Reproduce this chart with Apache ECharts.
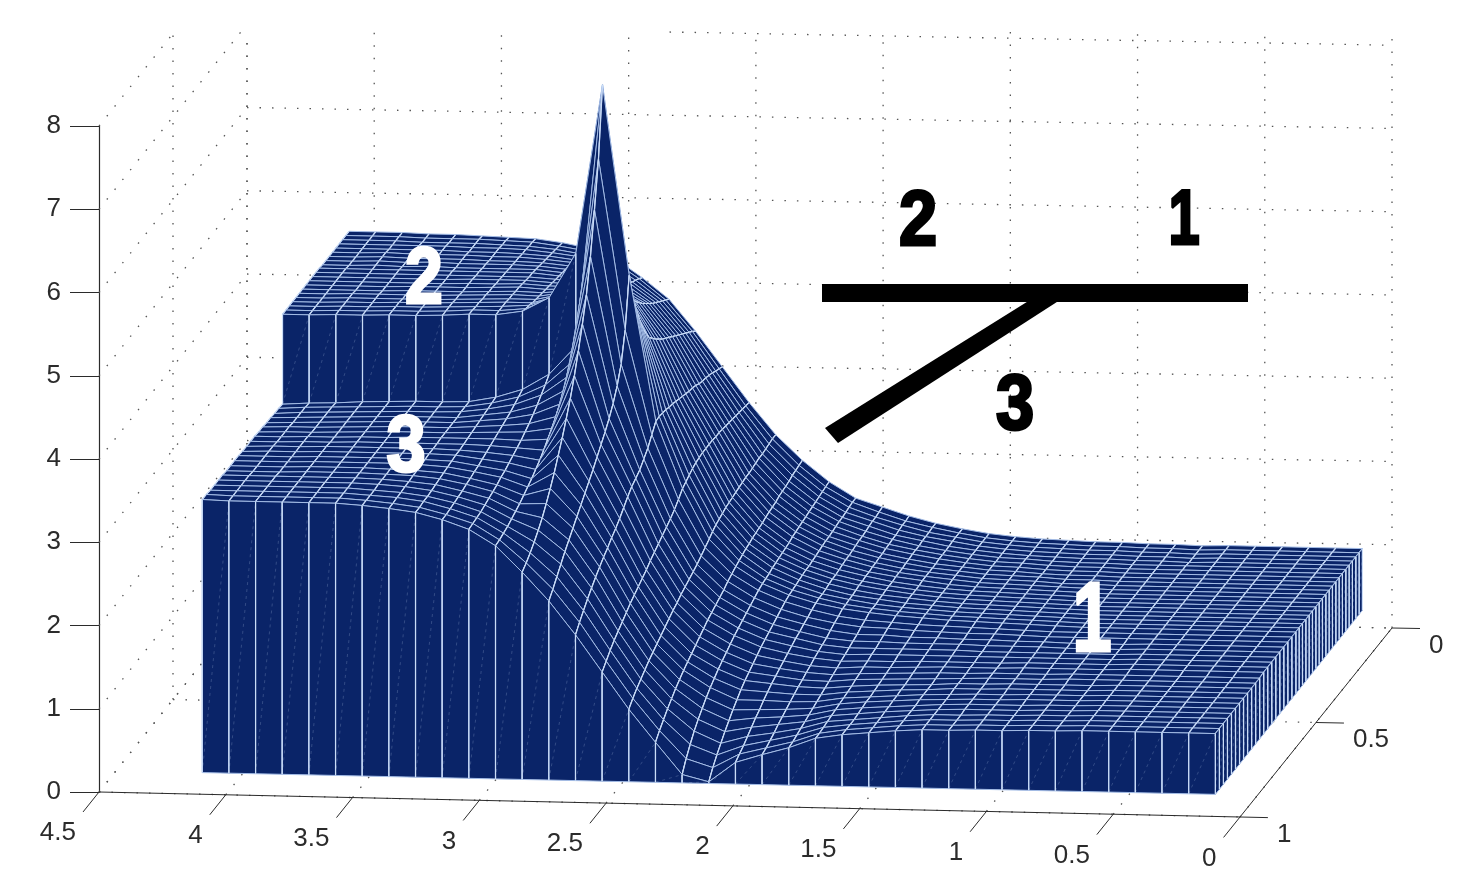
<!DOCTYPE html>
<html>
<head>
<meta charset="utf-8">
<script src="https://cdn.jsdelivr.net/npm/echarts@6/dist/echarts.min.js"></script>
<style>
html, body { margin: 0; padding: 0; background: #fff; }
#main { width: 1474px; height: 894px; }
</style>
</head>
<body>
<div id="main"></div>
<script>
var xTicks = [4.5, 4, 3.5, 3, 2.5, 2, 1.5, 1, 0.5, 0];
var yTicks = [0, 0.5, 1];
var zTicks = [0, 1, 2, 3, 4, 5, 6, 7, 8];

// surface height, one line per column from x=4 to x=0, front half: y=1 to the slip line
var heightsFront = [
    [3.28,3.28,3.27,3.27,3.27,3.27,3.26,3.26,3.26,3.26,3.25,3.25,3.25,3.25,3.24,3.24,3.23,3.23,3.22,3.22,3.21],
    [3.27,3.27,3.27,3.27,3.27,3.27,3.26,3.26,3.26,3.26,3.26,3.26,3.25,3.25,3.25,3.25,3.24,3.24,3.24,3.24,3.23],
    [3.27,3.27,3.27,3.27,3.27,3.27,3.26,3.26,3.26,3.26,3.26,3.26,3.26,3.26,3.25,3.25,3.25,3.25,3.25,3.25,3.24],
    [3.27,3.27,3.27,3.27,3.27,3.27,3.27,3.27,3.27,3.27,3.27,3.27,3.26,3.26,3.26,3.26,3.26,3.26,3.26,3.26,3.26],
    [3.27,3.27,3.27,3.27,3.27,3.27,3.27,3.27,3.27,3.27,3.27,3.27,3.27,3.27,3.27,3.27,3.27,3.27,3.27,3.27,3.27],
    [3.27,3.27,3.27,3.27,3.27,3.27,3.27,3.27,3.27,3.27,3.27,3.27,3.27,3.27,3.28,3.28,3.28,3.28,3.28,3.28,3.28],
    [3.25,3.25,3.25,3.25,3.26,3.26,3.26,3.26,3.27,3.27,3.27,3.27,3.27,3.28,3.28,3.28,3.28,3.28,3.28,3.28,3.28],
    [3.22,3.22,3.23,3.23,3.24,3.24,3.25,3.25,3.26,3.26,3.27,3.27,3.27,3.28,3.28,3.28,3.28,3.28,3.29,3.29,3.29],
    [3.18,3.18,3.19,3.19,3.20,3.21,3.22,3.23,3.24,3.25,3.26,3.26,3.27,3.28,3.29,3.30,3.31,3.32,3.33,3.34,3.35],
    [3.10,3.10,3.11,3.12,3.13,3.14,3.16,3.17,3.19,3.20,3.22,3.24,3.26,3.28,3.30,3.32,3.34,3.36,3.39,3.42,3.45],
    [2.99,3.00,3.01,3.02,3.04,3.06,3.08,3.10,3.13,3.15,3.18,3.21,3.24,3.27,3.31,3.35,3.40,3.45,3.51,3.57,3.64],
    [2.80,2.81,2.83,2.85,2.88,2.91,2.94,2.98,3.02,3.06,3.11,3.16,3.22,3.29,3.36,3.44,3.53,3.63,3.74,3.85,3.98],
    [2.49,2.54,2.60,2.67,2.75,2.84,2.95,3.07,3.20,3.35,3.50,3.67,3.85,4.06,4.30,4.56,4.85,5.25,5.75,6.30,7.13],
    [2.15,2.23,2.32,2.41,2.50,2.58,2.66,2.74,2.82,2.90,2.98,3.06,3.15,3.24,3.33,3.43,3.55,3.70,3.90,4.25,4.85],
    [1.75,1.84,1.92,2.00,2.07,2.14,2.20,2.26,2.31,2.37,2.42,2.48,2.55,2.62,2.68,2.72,2.76,2.83,2.90,3.00,3.10],
    [1.31,1.38,1.45,1.51,1.56,1.61,1.66,1.71,1.75,1.79,1.83,1.87,1.92,1.96,2.00,2.04,2.08,2.12,2.17,2.23,2.30],
    [0.87,0.94,1.00,1.05,1.10,1.15,1.19,1.23,1.27,1.31,1.35,1.39,1.42,1.46,1.49,1.52,1.55,1.58,1.62,1.66,1.70],
    [0.48,0.56,0.63,0.70,0.76,0.82,0.87,0.92,0.96,1.00,1.04,1.08,1.12,1.16,1.19,1.22,1.25,1.28,1.32,1.35,1.38],
    [0.10,0.23,0.34,0.44,0.52,0.59,0.66,0.72,0.77,0.82,0.86,0.90,0.94,0.98,1.01,1.04,1.07,1.10,1.13,1.16,1.18],
    [0.02,0.13,0.22,0.30,0.38,0.45,0.52,0.58,0.64,0.69,0.73,0.77,0.81,0.85,0.88,0.91,0.94,0.97,1.00,1.03,1.05],
    [0.26,0.30,0.34,0.39,0.44,0.49,0.53,0.58,0.62,0.66,0.69,0.72,0.75,0.78,0.81,0.84,0.86,0.89,0.91,0.94,0.96],
    [0.36,0.38,0.41,0.44,0.48,0.51,0.54,0.57,0.60,0.63,0.65,0.68,0.70,0.73,0.75,0.77,0.79,0.82,0.85,0.87,0.90],
    [0.45,0.46,0.48,0.50,0.52,0.54,0.56,0.58,0.60,0.62,0.64,0.66,0.68,0.70,0.72,0.74,0.76,0.78,0.81,0.83,0.86],
    [0.57,0.57,0.58,0.59,0.60,0.61,0.62,0.63,0.64,0.65,0.67,0.68,0.70,0.71,0.73,0.74,0.76,0.78,0.80,0.81,0.83],
    [0.62,0.62,0.62,0.62,0.63,0.64,0.65,0.65,0.66,0.67,0.68,0.69,0.70,0.71,0.73,0.74,0.75,0.76,0.78,0.79,0.81],
    [0.65,0.65,0.65,0.65,0.66,0.66,0.67,0.67,0.68,0.68,0.69,0.70,0.71,0.72,0.73,0.74,0.75,0.76,0.77,0.78,0.79],
    [0.68,0.68,0.68,0.68,0.68,0.68,0.69,0.69,0.69,0.69,0.70,0.71,0.72,0.72,0.73,0.74,0.75,0.75,0.76,0.77,0.78],
    [0.70,0.70,0.70,0.70,0.70,0.70,0.70,0.70,0.71,0.71,0.71,0.71,0.72,0.72,0.73,0.73,0.74,0.75,0.76,0.76,0.77],
    [0.70,0.70,0.70,0.70,0.71,0.71,0.71,0.71,0.71,0.71,0.72,0.72,0.72,0.72,0.73,0.73,0.74,0.74,0.75,0.75,0.76],
    [0.71,0.71,0.71,0.71,0.71,0.71,0.71,0.71,0.72,0.72,0.72,0.72,0.73,0.73,0.73,0.73,0.74,0.74,0.74,0.74,0.75],
    [0.71,0.71,0.71,0.71,0.71,0.71,0.72,0.72,0.72,0.72,0.72,0.72,0.73,0.73,0.73,0.73,0.73,0.73,0.74,0.74,0.74],
    [0.72,0.72,0.72,0.72,0.72,0.72,0.72,0.72,0.72,0.72,0.73,0.73,0.73,0.73,0.73,0.73,0.73,0.73,0.74,0.74,0.74],
    [0.72,0.72,0.72,0.72,0.72,0.72,0.72,0.72,0.72,0.72,0.73,0.73,0.73,0.73,0.73,0.73,0.73,0.73,0.74,0.74,0.74],
    [0.73,0.73,0.73,0.73,0.73,0.73,0.73,0.73,0.73,0.73,0.73,0.73,0.74,0.74,0.74,0.74,0.74,0.74,0.74,0.74,0.74],
    [0.73,0.73,0.73,0.73,0.73,0.73,0.73,0.73,0.73,0.73,0.73,0.73,0.74,0.74,0.74,0.74,0.74,0.74,0.74,0.74,0.74],
    [0.73,0.73,0.73,0.73,0.73,0.73,0.73,0.73,0.73,0.73,0.73,0.73,0.74,0.74,0.74,0.74,0.74,0.74,0.74,0.74,0.74],
    [0.73,0.73,0.73,0.73,0.73,0.73,0.73,0.73,0.73,0.73,0.73,0.73,0.74,0.74,0.74,0.74,0.74,0.74,0.74,0.74,0.74],
    [0.73,0.73,0.73,0.73,0.73,0.73,0.73,0.73,0.73,0.73,0.73,0.73,0.74,0.74,0.74,0.74,0.74,0.74,0.74,0.74,0.74],
    [0.73,0.73,0.73,0.73,0.73,0.73,0.73,0.73,0.73,0.73,0.73,0.73,0.74,0.74,0.74,0.74,0.74,0.74,0.74,0.74,0.74]
];

// back half: slip line to y=0
var heightsBack = [
    [4.29,4.29,4.29,4.29,4.29,4.29,4.29,4.29,4.29,4.29,4.29,4.29,4.28,4.28,4.28,4.28,4.28,4.28,4.28,4.28,4.28],
    [4.29,4.29,4.29,4.29,4.29,4.29,4.29,4.29,4.29,4.29,4.29,4.29,4.28,4.28,4.28,4.28,4.28,4.28,4.28,4.28,4.28],
    [4.30,4.30,4.30,4.30,4.30,4.30,4.29,4.29,4.29,4.29,4.29,4.29,4.29,4.29,4.29,4.29,4.28,4.28,4.28,4.28,4.28],
    [4.30,4.30,4.30,4.30,4.30,4.30,4.29,4.29,4.29,4.29,4.29,4.29,4.28,4.28,4.28,4.28,4.28,4.28,4.27,4.27,4.27],
    [4.31,4.31,4.31,4.31,4.30,4.30,4.30,4.30,4.29,4.29,4.29,4.29,4.29,4.29,4.28,4.28,4.28,4.28,4.27,4.27,4.27],
    [4.31,4.31,4.31,4.31,4.30,4.30,4.30,4.30,4.29,4.29,4.29,4.29,4.28,4.28,4.28,4.28,4.27,4.27,4.27,4.27,4.26],
    [4.32,4.32,4.32,4.32,4.31,4.31,4.30,4.30,4.30,4.30,4.29,4.29,4.28,4.28,4.27,4.27,4.27,4.27,4.26,4.26,4.25],
    [4.34,4.34,4.33,4.33,4.32,4.32,4.31,4.31,4.30,4.30,4.29,4.29,4.28,4.28,4.27,4.27,4.26,4.26,4.25,4.25,4.24],
    [4.34,4.34,4.34,4.34,4.33,4.33,4.32,4.32,4.31,4.30,4.29,4.29,4.28,4.27,4.26,4.25,4.24,4.23,4.22,4.21,4.20],
    [4.39,4.37,4.36,4.34,4.33,4.32,4.31,4.30,4.29,4.28,4.27,4.26,4.25,4.24,4.23,4.22,4.20,4.19,4.17,4.16,4.14],
    [4.56,4.51,4.47,4.43,4.40,4.37,4.34,4.31,4.29,4.26,4.24,4.22,4.20,4.18,4.16,4.14,4.12,4.10,4.07,4.05,4.02],
    [5.10,4.85,4.70,4.58,4.48,4.40,4.33,4.27,4.22,4.18,4.14,4.10,4.07,4.03,4.00,3.97,3.94,3.90,3.87,3.84,3.80],
    [7.13,6.05,5.35,5.00,4.75,4.55,4.40,4.28,4.18,4.10,4.02,3.96,3.90,3.85,3.80,3.75,3.71,3.67,3.63,3.59,3.55],
    [4.85,4.55,4.35,4.17,4.02,3.90,3.80,3.74,3.68,3.63,3.58,3.54,3.50,3.46,3.42,3.38,3.34,3.30,3.26,3.22,3.17],
    [3.10,3.11,3.10,3.09,3.07,3.06,3.04,3.02,3.00,2.98,2.96,2.95,2.93,2.90,2.88,2.87,2.85,2.83,2.80,2.78,2.75],
    [2.30,2.33,2.36,2.39,2.41,2.42,2.43,2.43,2.43,2.43,2.42,2.42,2.41,2.40,2.39,2.38,2.37,2.36,2.35,2.34,2.33],
    [1.70,1.74,1.77,1.79,1.81,1.83,1.84,1.85,1.86,1.87,1.88,1.89,1.89,1.90,1.91,1.92,1.92,1.93,1.94,1.95,1.95],
    [1.38,1.40,1.42,1.44,1.45,1.47,1.48,1.49,1.50,1.52,1.53,1.54,1.55,1.57,1.58,1.59,1.60,1.62,1.63,1.64,1.65],
    [1.18,1.19,1.20,1.22,1.23,1.24,1.25,1.26,1.27,1.29,1.30,1.31,1.32,1.33,1.34,1.35,1.36,1.37,1.38,1.39,1.40],
    [1.05,1.06,1.07,1.08,1.09,1.10,1.10,1.11,1.12,1.13,1.14,1.15,1.15,1.16,1.17,1.18,1.18,1.19,1.20,1.21,1.21],
    [0.96,0.97,0.97,0.98,0.99,1.00,1.00,1.01,1.02,1.03,1.03,1.04,1.05,1.06,1.06,1.07,1.08,1.09,1.09,1.10,1.11],
    [0.90,0.90,0.91,0.91,0.92,0.93,0.93,0.94,0.94,0.95,0.95,0.96,0.96,0.97,0.97,0.98,0.98,0.99,1.00,1.00,1.01],
    [0.86,0.86,0.86,0.87,0.87,0.88,0.88,0.88,0.89,0.89,0.89,0.90,0.90,0.91,0.91,0.91,0.92,0.92,0.92,0.93,0.93],
    [0.83,0.83,0.83,0.83,0.84,0.84,0.84,0.84,0.85,0.85,0.85,0.85,0.85,0.86,0.86,0.86,0.86,0.87,0.87,0.87,0.87],
    [0.81,0.81,0.81,0.81,0.81,0.81,0.81,0.81,0.81,0.82,0.82,0.82,0.82,0.82,0.82,0.82,0.82,0.82,0.82,0.82,0.82],
    [0.79,0.79,0.79,0.79,0.79,0.79,0.79,0.79,0.79,0.79,0.79,0.79,0.79,0.79,0.79,0.79,0.79,0.79,0.79,0.79,0.79],
    [0.78,0.78,0.78,0.78,0.78,0.78,0.78,0.78,0.78,0.78,0.78,0.78,0.78,0.78,0.78,0.78,0.77,0.77,0.77,0.77,0.77],
    [0.77,0.77,0.77,0.77,0.77,0.77,0.77,0.77,0.77,0.77,0.77,0.77,0.76,0.76,0.76,0.76,0.76,0.76,0.76,0.76,0.76],
    [0.76,0.76,0.76,0.76,0.76,0.76,0.76,0.76,0.76,0.76,0.75,0.75,0.75,0.75,0.75,0.75,0.75,0.75,0.75,0.75,0.75],
    [0.75,0.75,0.75,0.75,0.75,0.75,0.75,0.75,0.75,0.75,0.75,0.75,0.75,0.75,0.75,0.75,0.75,0.75,0.75,0.75,0.75],
    [0.74,0.74,0.74,0.74,0.74,0.74,0.74,0.74,0.74,0.74,0.74,0.74,0.74,0.74,0.74,0.74,0.74,0.74,0.74,0.74,0.74],
    [0.74,0.74,0.74,0.74,0.74,0.74,0.74,0.74,0.74,0.74,0.74,0.74,0.74,0.74,0.74,0.74,0.74,0.74,0.74,0.74,0.74],
    [0.74,0.74,0.74,0.74,0.74,0.74,0.74,0.74,0.74,0.74,0.74,0.74,0.74,0.74,0.74,0.74,0.73,0.73,0.73,0.73,0.73],
    [0.74,0.74,0.74,0.74,0.74,0.74,0.74,0.74,0.74,0.74,0.74,0.74,0.74,0.74,0.74,0.74,0.74,0.74,0.74,0.74,0.74],
    [0.74,0.74,0.74,0.74,0.74,0.74,0.74,0.74,0.74,0.74,0.74,0.74,0.74,0.74,0.74,0.74,0.74,0.74,0.74,0.74,0.74],
    [0.74,0.74,0.74,0.74,0.74,0.74,0.74,0.74,0.74,0.74,0.74,0.74,0.74,0.74,0.74,0.74,0.74,0.74,0.74,0.74,0.74],
    [0.74,0.74,0.74,0.74,0.74,0.74,0.74,0.74,0.74,0.74,0.74,0.74,0.74,0.74,0.74,0.74,0.74,0.74,0.74,0.74,0.74],
    [0.74,0.74,0.74,0.74,0.74,0.74,0.74,0.74,0.74,0.74,0.74,0.74,0.74,0.74,0.74,0.74,0.74,0.74,0.74,0.74,0.74],
    [0.74,0.74,0.74,0.74,0.74,0.74,0.74,0.74,0.74,0.74,0.74,0.74,0.74,0.74,0.74,0.74,0.74,0.74,0.74,0.74,0.74]
];

var NAVY = '#0a2468';
var ROW_LINE = '#a3bce6';
var COL_LINE = '#cadcf7';
var INK = '#2b2b2b';
var FONT = '"Liberation Sans", Arial, sans-serif';
var HEAVY = '"Liberation Sans Narrow", "Liberation Sans", sans-serif';

// oblique view: floor (x,y) and height z to the plane of the hidden x axis and the z axis
function project(x, y, z) {
    var tx = (4.5 - x) / 4.5;
    var ty = 1 - y;
    var px = tx * 1141 + ty * (148 + 4 * tx);
    var py = tx * 25 - ty * (185 + 4 * tx);
    return [4.5 - px / 1141 * 4.5, z - py / 83.25];
}

// the block does not sit on the axis box, its floor is offset from it
function surfacePoint(i, w, h) {
    var t = i / 38;
    var x = (1 - w) * (4.16 + (0.166 - 4.16) * t) + w * (4.165 + (0.17 - 4.165) * t);
    var y = (1 - w) * 0.885 + w * (-0.113 + 0.023 * t);
    return project(x, y, h);
}

var frontW = function (n) { return n / 20 * 0.547; };
var backW = function (m) { return 0.547 + m / 20 * 0.453; };

var faces = [];
function quad(a, b, c, d, wall) {
    faces.push({ pts: [a, b, c, d], wall: wall });
}
var i, j;
// far to near
for (j = 19; j >= 0; j--) {
    for (i = 0; i < 38; i++) {
        quad(surfacePoint(i, backW(j + 1), heightsBack[i][j + 1]), surfacePoint(i + 1, backW(j + 1), heightsBack[i + 1][j + 1]),
             surfacePoint(i + 1, backW(j), heightsBack[i + 1][j]), surfacePoint(i, backW(j), heightsBack[i][j]));
    }
}
// step between the two sides of the slip line
for (i = 0; i < 12; i++) {
    quad(surfacePoint(i, frontW(20), heightsFront[i][20]), surfacePoint(i + 1, frontW(20), heightsFront[i + 1][20]),
         surfacePoint(i + 1, backW(0), heightsBack[i + 1][0]), surfacePoint(i, backW(0), heightsBack[i][0]), true);
}
for (j = 19; j >= 0; j--) {
    for (i = 0; i < 38; i++) {
        quad(surfacePoint(i, frontW(j + 1), heightsFront[i][j + 1]), surfacePoint(i + 1, frontW(j + 1), heightsFront[i + 1][j + 1]),
             surfacePoint(i + 1, frontW(j), heightsFront[i + 1][j]), surfacePoint(i, frontW(j), heightsFront[i][j]));
    }
}
// right side wall
for (j = 19; j >= 0; j--) {
    quad(surfacePoint(38, backW(j), 0), surfacePoint(38, backW(j + 1), 0),
         surfacePoint(38, backW(j + 1), heightsBack[38][j + 1]), surfacePoint(38, backW(j), heightsBack[38][j]), true);
}
for (j = 19; j >= 0; j--) {
    quad(surfacePoint(38, frontW(j), 0), surfacePoint(38, frontW(j + 1), 0),
         surfacePoint(38, frontW(j + 1), heightsFront[38][j + 1]), surfacePoint(38, frontW(j), heightsFront[38][j]), true);
}
// front wall
for (i = 0; i < 38; i++) {
    quad(surfacePoint(i, 0, 0), surfacePoint(i + 1, 0, 0),
         surfacePoint(i + 1, 0, heightsFront[i + 1][0]), surfacePoint(i, 0, heightsFront[i][0]), true);
}

// dotted grid of the box, cut at the top of the picture
var TOP = (792 - 32) / 83.25;
var dots = [];
function dotLine(a, b) {
    var p = project(a[0], a[1], a[2]);
    var q = project(b[0], b[1], b[2]);
    if (p[1] > TOP && q[1] > TOP) return;
    if (q[1] > TOP) {
        var s = (TOP - p[1]) / (q[1] - p[1]);
        q = [p[0] + (q[0] - p[0]) * s, TOP];
    } else if (p[1] > TOP) {
        var r = (TOP - q[1]) / (p[1] - q[1]);
        p = [q[0] + (p[0] - q[0]) * r, TOP];
    }
    dots.push([p, q]);
}
zTicks.forEach(function (z) {
    dotLine([4.5, 1, z], [4.5, 0, z]);
    dotLine([4.5, 0, z], [0, 0, z]);
});
yTicks.forEach(function (y) {
    dotLine([4.5, y, 0], [0, y, 0]);
    if (y < 1) dotLine([4.5, y, 0], [4.5, y, 8]);
});
xTicks.forEach(function (x) {
    dotLine([x, 1, 0], [x, 0, 0]);
    dotLine([x, 0, 0], [x, 0, 8]);
});

var axisLines = [
    [project(4.5, 1, 0), project(-0.11, 1, 0)],
    [project(0, 0, 0), project(0, 1.108, 0)],
    [project(0, 0, 0), project(-0.11, 0, 0)],
    [project(0, 0.5, 0), project(-0.11, 0.5, 0)]
];
xTicks.slice(0, 9).forEach(function (x) {
    axisLines.push([project(x, 1, 0), project(x, 1.108, 0)]);
});

var tickLabels = [];
xTicks.forEach(function (x) {
    tickLabels.push({ at: project(x, 1.108, 0), text: String(x), align: 'right', dx: -7, dy: 21 });
});
yTicks.forEach(function (y) {
    tickLabels.push({ at: project(-0.11, y, 0), text: String(y), align: 'left', dx: 9, dy: 17 });
});

var myChart = echarts.init(document.getElementById('main'), null, { renderer: 'canvas' });

function lineEl(api, seg, style) {
    var a = api.coord(seg[0]);
    var b = api.coord(seg[1]);
    return {
        type: 'line',
        shape: { x1: a[0], y1: a[1], x2: b[0], y2: b[1] },
        style: style
    };
}

function indexData(list) {
    return list.map(function (d, idx) { return [idx]; });
}

function bigDigit(text, x, y, size, color, squeeze) {
    return {
        type: 'text',
        z: 50,
        x: x,
        y: y,
        scaleX: squeeze,
        style: {
            text: text, fill: color, stroke: color, lineWidth: 3,
            font: 'bold ' + size + 'px ' + HEAVY,
            textAlign: 'center', textVerticalAlign: 'middle'
        }
    };
}

myChart.setOption({
    animation: false,
    backgroundColor: '#fff',
    grid: { left: 99, right: 234, top: 126, bottom: 102 },
    xAxis: { type: 'value', min: 0, max: 4.5, inverse: true, show: false },
    yAxis: {
        type: 'value',
        min: 0,
        max: 8,
        interval: 1,
        position: 'left',
        axisLine: { show: true, onZero: false, lineStyle: { color: INK, width: 1.2 } },
        axisTick: { show: true, length: 29, lineStyle: { color: INK, width: 1 } },
        axisLabel: { margin: 38, fontSize: 26, color: INK, fontFamily: FONT, padding: [5, 0, 0, 0] },
        splitLine: { show: false }
    },
    series: [
        {
            type: 'custom',
            clip: false,
            silent: true,
            z: 1,
            data: indexData(dots),
            encode: { x: -1, y: -1 },
            renderItem: function (params, api) {
                return lineEl(api, dots[params.dataIndex], {
                    stroke: '#555', lineWidth: 1.3, lineDash: [1.5, 11], fill: null
                });
            }
        },
        {
            type: 'custom',
            clip: false,
            silent: true,
            z: 2,
            progressive: 0,
            data: indexData(faces),
            encode: { x: -1, y: -1 },
            renderItem: function (params, api) {
                var f = faces[params.dataIndex];
                var pts = f.pts.map(function (p) { return api.coord(p); });
                var colStyle = { stroke: COL_LINE, lineWidth: 1.2, fill: null };
                var children = [{
                    type: 'polygon',
                    shape: { points: pts },
                    style: { fill: NAVY, stroke: ROW_LINE, lineWidth: 1, lineJoin: 'bevel' }
                }, {
                    type: 'line',
                    shape: { x1: pts[0][0], y1: pts[0][1], x2: pts[3][0], y2: pts[3][1] },
                    style: colStyle
                }, {
                    type: 'line',
                    shape: { x1: pts[1][0], y1: pts[1][1], x2: pts[2][0], y2: pts[2][1] },
                    style: colStyle
                }];
                if (f.wall) {
                    children.push({
                        type: 'line',
                        shape: { x1: pts[0][0], y1: pts[0][1], x2: pts[2][0], y2: pts[2][1] },
                        style: { stroke: COL_LINE, lineWidth: 0.6, opacity: 0.35, lineDash: [3, 4], fill: null }
                    });
                }
                return { type: 'group', children: children };
            }
        },
        {
            type: 'custom',
            clip: false,
            silent: true,
            z: 3,
            data: indexData(axisLines),
            encode: { x: -1, y: -1 },
            renderItem: function (params, api) {
                return lineEl(api, axisLines[params.dataIndex], { stroke: INK, lineWidth: 1, fill: null });
            }
        },
        {
            type: 'custom',
            clip: false,
            silent: true,
            z: 3,
            data: indexData(tickLabels),
            encode: { x: -1, y: -1 },
            renderItem: function (params, api) {
                var t = tickLabels[params.dataIndex];
                var p = api.coord(t.at);
                return {
                    type: 'text',
                    style: {
                        x: p[0] + t.dx, y: p[1] + t.dy, text: t.text, fill: INK,
                        font: '26px ' + FONT, textAlign: t.align, textVerticalAlign: 'middle'
                    }
                };
            }
        }
    ],
    graphic: [
        { type: 'rect', z: 50, shape: { x: 822, y: 284, width: 426, height: 18 }, style: { fill: '#000' } },
        { type: 'polygon', z: 50, shape: { points: [[825, 428], [838, 443], [1060, 300], [1030, 300]] }, style: { fill: '#000' } },
        bigDigit('2', 918, 223, 78, '#000', 0.88),
        bigDigit('1', 1184, 222, 78, '#000', 0.72),
        bigDigit('3', 1015, 407, 78, '#000', 0.88),
        bigDigit('2', 424, 281, 80, '#fff', 0.85),
        bigDigit('3', 406, 449, 80, '#fff', 0.88),
        bigDigit('1', 1092, 624, 98, '#fff', 0.72)
    ]
});
</script>
</body>
</html>
